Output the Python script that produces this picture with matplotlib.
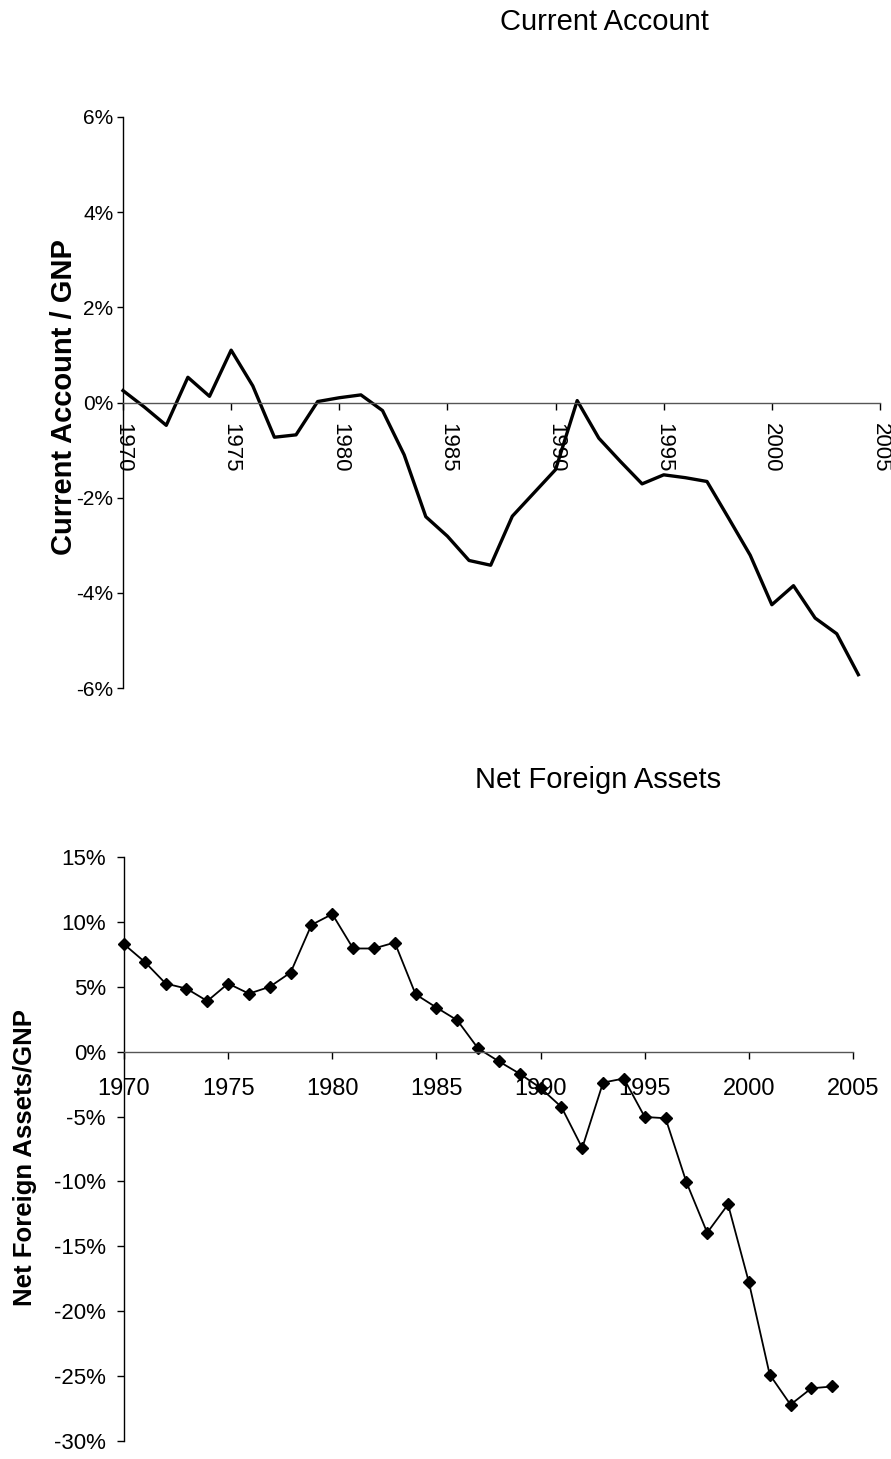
import numpy as np
import matplotlib
matplotlib.use('Agg')
import matplotlib.pyplot as plt
from matplotlib.ticker import FuncFormatter

plt.rcParams['font.family'] = ['Liberation Sans', 'DejaVu Sans']
plt.rcParams['axes.unicode_minus'] = False

years = list(range(1970, 2005))

# current account / GNP, percent
ca = [0.25, -0.1, -0.48, 0.53, 0.13, 1.1, 0.35, -0.73, -0.68, 0.02,
      0.1, 0.16, -0.17, -1.1, -2.4, -2.81, -3.32, -3.42, -2.39, -1.9,
      -1.41, 0.04, -0.75, -1.24, -1.71, -1.52, -1.58, -1.66, -2.43, -3.21,
      -4.25, -3.85, -4.53, -4.86, -5.72]

# net foreign assets / GNP, percent
nfa = [8.28, 6.91, 5.25, 4.86, 3.9, 5.25, 4.47, 5.0, 6.1, 9.77,
       10.6, 7.95, 7.95, 8.41, 4.42, 3.4, 2.42, 0.25, -0.75, -1.7,
       -2.8, -4.26, -7.42, -2.38, -2.07, -5.03, -5.13, -10.05, -13.95, -11.77,
       -17.76, -24.88, -27.2, -25.94, -25.8]

xticks = list(range(1970, 2006, 5))
ca_yticks = [-6, -4, -2, 0, 2, 4, 6]
nfa_yticks = [-30, -25, -20, -15, -10, -5, 0, 5, 10, 15]

pct = FuncFormatter(lambda v, p: '%d%%' % v)

W, H = 891, 1459
fig = plt.figure(figsize=(W / 100, H / 100), dpi=100)


def style(ax):
    for s in ['top', 'right']:
        ax.spines[s].set_visible(False)
    ax.spines['bottom'].set_position(('data', 0))
    ax.spines['bottom'].set_color('#555555')
    ax.spines['bottom'].set_linewidth(1.0)
    ax.spines['left'].set_linewidth(1.0)
    ax.yaxis.set_major_formatter(pct)
    ax.set_xlim(1970, 2005)
    ax.set_xticks(xticks)


# top: current account
ax1 = fig.add_axes([123 / W, 1 - 688 / H, (880 - 123) / W, (688 - 117) / H])
ax1.plot(years, ca, color='black', lw=2.4, clip_on=False)
style(ax1)
ax1.set_ylim(-6, 6)
ax1.set_yticks(ca_yticks)
ax1.tick_params(axis='y', direction='out', length=4, width=1, pad=3, labelsize=15)
ax1.tick_params(axis='x', direction='out', length=5, width=1, pad=10, labelsize=16)
for lab in ax1.get_xticklabels():
    lab.set_rotation(-90)
    lab.set_va('top')
    lab.set_ha('center')
ax1.set_ylabel('Current Account / GNP', fontsize=21, fontweight='bold')
ax1.yaxis.set_label_coords(-0.059, 0.51)
fig.text(604 / W, 1 - 22 / H, 'Current Account', fontsize=21, ha='center', va='center')

# bottom: net foreign assets
ax2 = fig.add_axes([124 / W, 1 - 1441 / H, (853 - 124) / W, (1441 - 857) / H])
ax2.plot(years, nfa, color='black', lw=1.3, marker='D', markersize=6.3,
         clip_on=False)
style(ax2)
ax2.set_ylim(-30, 15)
ax2.set_yticks(nfa_yticks)
ax2.tick_params(axis='y', direction='out', length=5, width=1, pad=8, labelsize=16)
ax2.tick_params(axis='x', direction='out', length=5, width=1, pad=14, labelsize=17)
ax2.set_ylabel('Net Foreign Assets/GNP', fontsize=18.5, fontweight='bold')
ax2.yaxis.set_label_coords(-0.119, 0.486)
fig.text(598 / W, 1 - 780 / H, 'Net Foreign Assets', fontsize=21, ha='center', va='center')

fig.savefig('out.png', dpi=100)
